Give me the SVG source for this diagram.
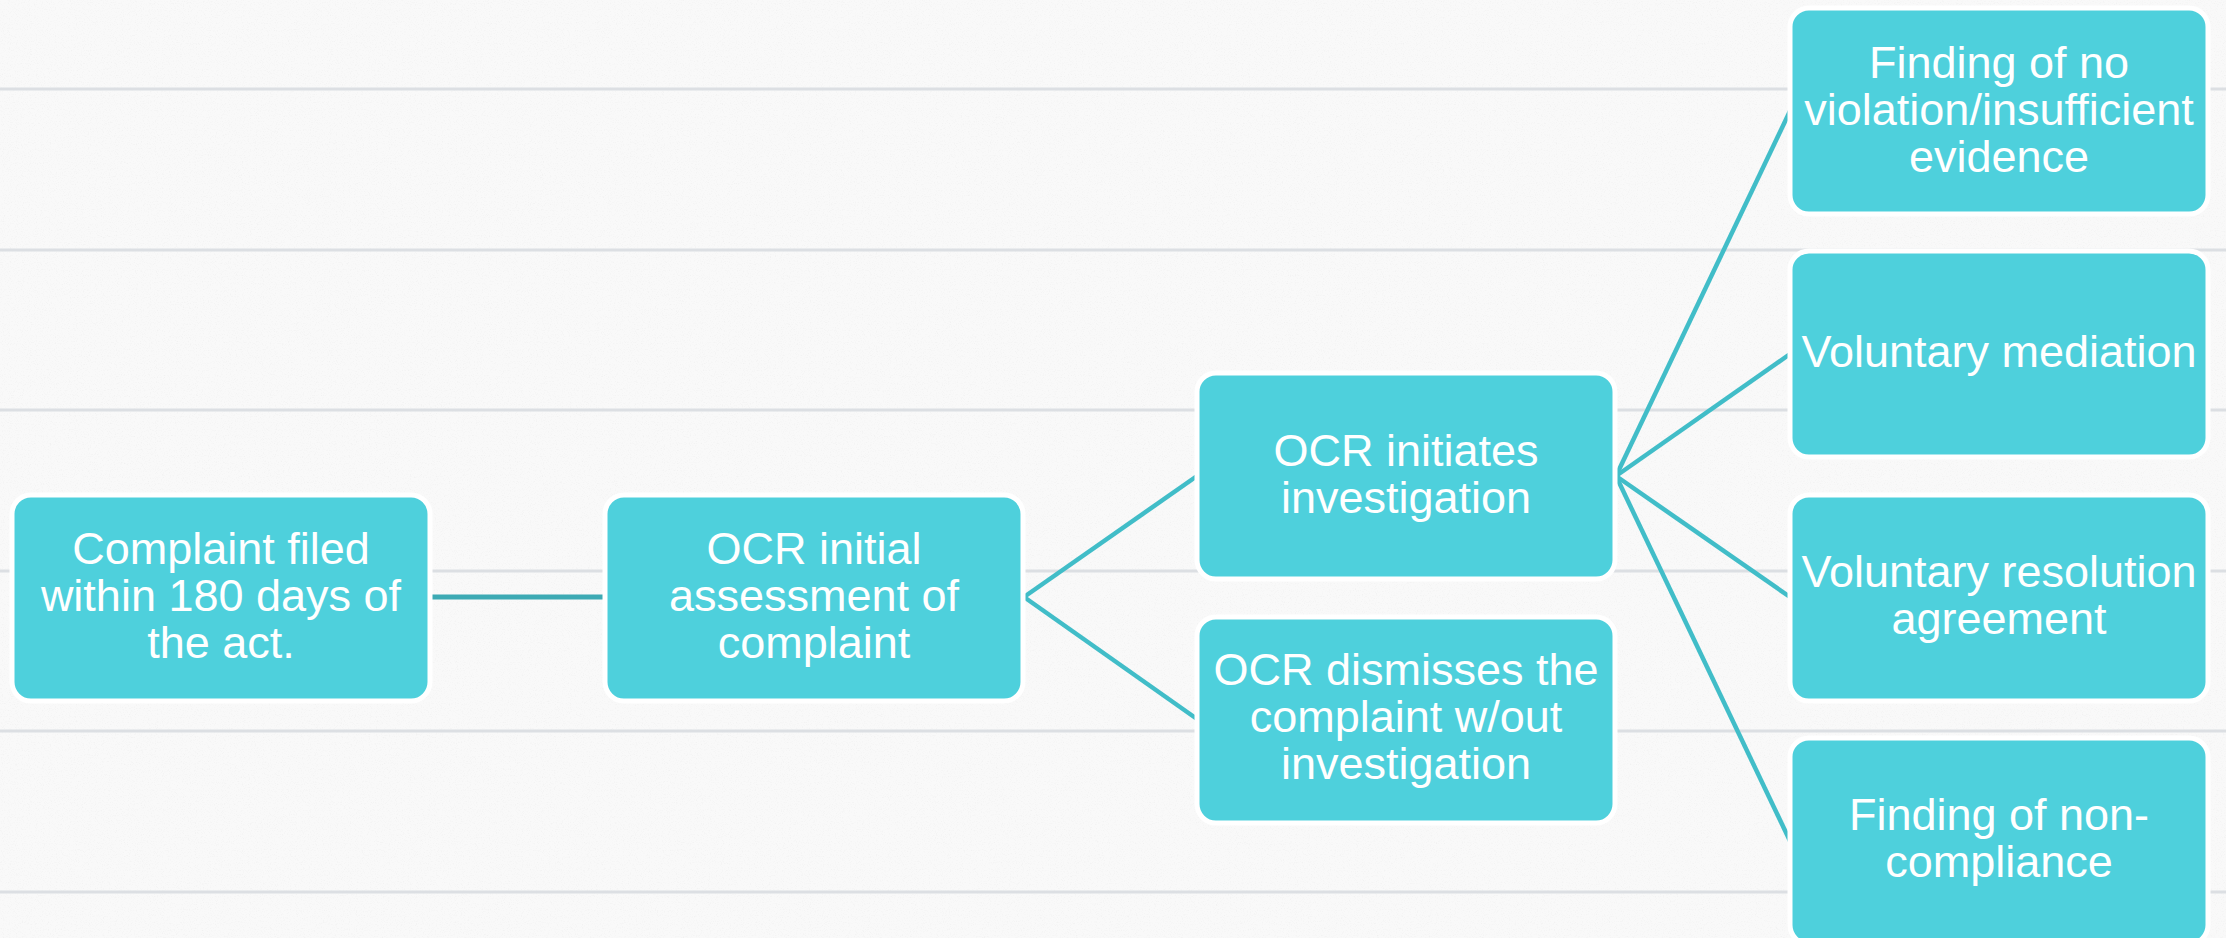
<svg xmlns="http://www.w3.org/2000/svg" width="2226" height="938" viewBox="0 0 2226 938">
  <defs>
    <style>
      .paper { fill: #f9f9f9; }
      .rule { stroke: #dcdfe3; stroke-width: 3; }
      .box { fill: #4ed0dc; stroke: #ffffff; stroke-width: 5; }
      .label { font-family: "Liberation Sans", Arial, sans-serif; font-size: 45px; fill: #ffffff; text-anchor: middle; }
      .link { stroke: #41bdc8; stroke-width: 4.5; fill: none; stroke-linecap: butt; }
      .link-main { stroke: #3daab4; stroke-width: 5; }
    </style>
    <filter id="grain" x="0" y="0" width="100%" height="100%">
      <feTurbulence type="fractalNoise" baseFrequency="0.85" numOctaves="2" seed="7"/>
      <feColorMatrix type="matrix" values="0 0 0 0 0.6  0 0 0 0 0.6  0 0 0 0 0.6  1.4 0 0 0 -0.72"/>
    </filter>
  </defs>

  <!-- paper background with ruled lines -->
  <rect class="paper" x="0" y="0" width="2226" height="938"/>
  <rect x="0" y="0" width="2226" height="938" filter="url(#grain)" opacity="0.3"/>
  <g id="rules">
    <line class="rule" x1="0" y1="89" x2="2226" y2="89"/>
    <line class="rule" x1="0" y1="250" x2="2226" y2="250"/>
    <line class="rule" x1="0" y1="410" x2="2226" y2="410"/>
    <line class="rule" x1="0" y1="571" x2="2226" y2="571"/>
    <line class="rule" x1="0" y1="731" x2="2226" y2="731"/>
    <line class="rule" x1="0" y1="892" x2="2226" y2="892"/>
  </g>

  <!-- connectors -->
  <g id="connectors">
    <line class="link link-main" x1="430" y1="597" x2="605" y2="597"/>
    <line class="link" x1="1024" y1="597" x2="1197" y2="476"/>
    <line class="link" x1="1024" y1="597" x2="1197" y2="719"/>
    <line class="link" x1="1616" y1="476" x2="1790" y2="111"/>
    <line class="link" x1="1616" y1="476" x2="1790" y2="354"/>
    <line class="link" x1="1616" y1="476" x2="1790" y2="597"/>
    <line class="link" x1="1616" y1="476" x2="1790" y2="841"/>
  </g>

  <!-- nodes -->
  <g id="complaint-filed">
    <rect class="box" x="12" y="495" width="418" height="206" rx="19"/>
    <text class="label"><tspan x="221" y="564">Complaint filed</tspan><tspan x="221" y="611">within 180 days of</tspan><tspan x="221" y="658">the act.</tspan></text>
  </g>
  <g id="initial-assessment">
    <rect class="box" x="605" y="495" width="418" height="206" rx="19"/>
    <text class="label"><tspan x="814" y="564">OCR initial</tspan><tspan x="814" y="611">assessment of</tspan><tspan x="814" y="658">complaint</tspan></text>
  </g>
  <g id="initiates-investigation">
    <rect class="box" x="1197" y="373" width="418" height="206" rx="19"/>
    <text class="label"><tspan x="1406" y="466">OCR initiates</tspan><tspan x="1406" y="513">investigation</tspan></text>
  </g>
  <g id="dismisses-complaint">
    <rect class="box" x="1197" y="617" width="418" height="206" rx="19"/>
    <text class="label"><tspan x="1406" y="685">OCR dismisses the</tspan><tspan x="1406" y="732">complaint w/out</tspan><tspan x="1406" y="779">investigation</tspan></text>
  </g>
  <g id="no-violation">
    <rect class="box" x="1790" y="8" width="418" height="206" rx="19"/>
    <text class="label"><tspan x="1999" y="78">Finding of no</tspan><tspan x="1999" y="125">violation/insufficient</tspan><tspan x="1999" y="172">evidence</tspan></text>
  </g>
  <g id="voluntary-mediation">
    <rect class="box" x="1790" y="251" width="418" height="206" rx="19"/>
    <text class="label"><tspan x="1999" y="367">Voluntary mediation</tspan></text>
  </g>
  <g id="resolution-agreement">
    <rect class="box" x="1790" y="495" width="418" height="206" rx="19"/>
    <text class="label"><tspan x="1999" y="587">Voluntary resolution</tspan><tspan x="1999" y="634">agreement</tspan></text>
  </g>
  <g id="non-compliance">
    <rect class="box" x="1790" y="738" width="418" height="206" rx="19"/>
    <text class="label"><tspan x="1999" y="830">Finding of non-</tspan><tspan x="1999" y="877">compliance</tspan></text>
  </g>
</svg>
